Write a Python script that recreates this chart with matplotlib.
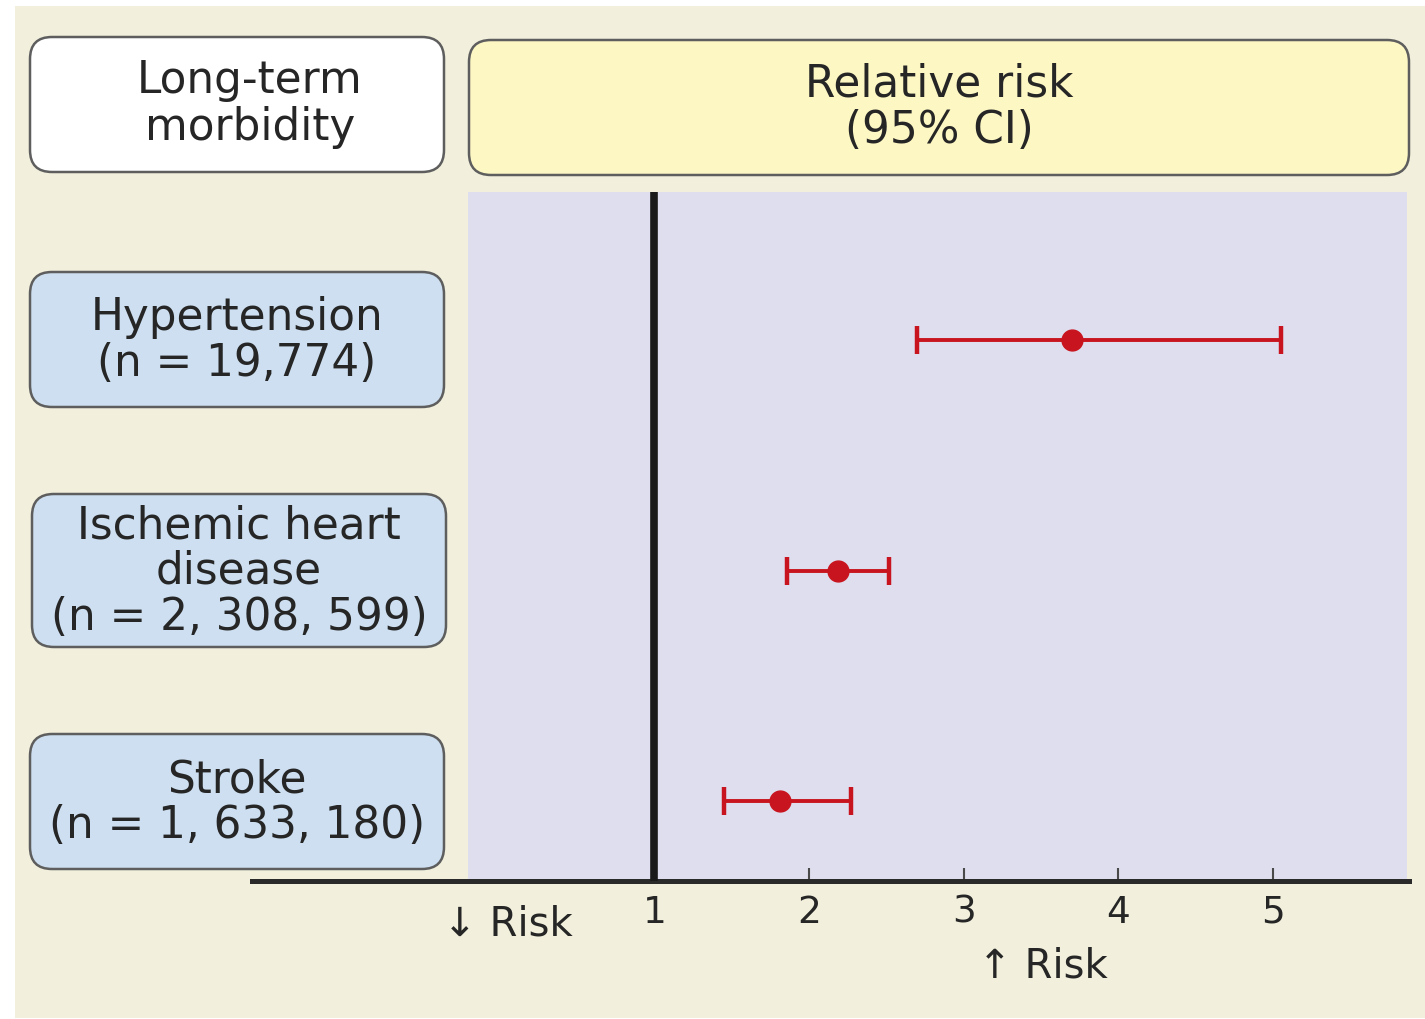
import matplotlib
matplotlib.use("Agg")
import matplotlib.pyplot as plt
from matplotlib.patches import FancyBboxPatch, Rectangle
import numpy as np

# ---- data ----
categories = ["Hypertension\n(n = 19,774)",
              "Ischemic heart\ndisease\n(n = 2, 308, 599)",
              "Stroke\n(n = 1, 633, 180)"]
rr = np.array([3.70, 2.19, 1.81])
ci_low = np.array([2.70, 1.86, 1.45])
ci_high = np.array([5.05, 2.52, 2.27])
tick_values = [1, 2, 3, 4, 5]
tick_labels = ["1", "2", "3", "4", "5"]
header_left = "Long-term\nmorbidity"
header_right = "Relative risk\n(95% CI)"

W, H = 1425, 1019
fig = plt.figure(figsize=(W / 100, H / 100), dpi=100)
fig.patch.set_facecolor("white")
plt.rcParams['font.family'] = ['DejaVu Sans']

TXT = "#262626"
EDGE = "#5e5e5e"
BEIGE = "#f2f0dc"
LAV = "#dfdeee"
YEL = "#fdf7c4"
BLUE = "#cddff0"
RED = "#c8141e"

# overlay in pixel coordinates for layout decorations
bg = fig.add_axes([0, 0, 1, 1], zorder=0)
bg.set_xlim(0, W)
bg.set_ylim(H, 0)
bg.axis("off")
bg.add_patch(Rectangle((15, 6), W - 15, 1012, facecolor=BEIGE, edgecolor="none"))
bg.add_patch(Rectangle((468, 192), 939, 689, facecolor=LAV, edgecolor="none"))

def rbox(x0, y0, x1, y1, fc):
    bg.add_patch(FancyBboxPatch((x0 + 20, y0 + 20), (x1 - x0) - 40, (y1 - y0) - 40,
                                boxstyle="round,pad=20,rounding_size=22",
                                facecolor=fc, edgecolor=EDGE, linewidth=1.8))

FS = 31.5
# header boxes
rbox(30, 37, 444, 172, "white")
bg.text(250, 104, header_left, ha="center", va="center", fontsize=FS,
        color=TXT, linespacing=1.1)
rbox(469, 40, 1409, 175, YEL)
bg.text(939, 107, header_right, ha="center", va="center", fontsize=FS,
        color=TXT, linespacing=1.1)

# row label boxes
row_boxes = [(30, 272, 444, 407), (32, 494, 446, 647), (30, 734, 444, 869)]
for (x0, y0, x1, y1), lab in zip(row_boxes, categories):
    rbox(x0, y0, x1, y1, BLUE)
    bg.text((x0 + x1) / 2, (y0 + y1) / 2 + 1, lab, ha="center", va="center",
            fontsize=FS, color=TXT, linespacing=1.08)

# risk direction labels
bg.text(508, 924, "\u2193 Risk", ha="center", va="center", fontsize=29, color=TXT)
bg.text(1043, 967, "\u2191 Risk", ha="center", va="center", fontsize=29, color=TXT)

# data axes
ax = fig.add_axes([252 / W, (H - 881) / H, (1409 - 252) / W, (881 - 192) / H], zorder=2)
ax.patch.set_alpha(0)
ax.set_xlim(-1.602, 5.880)
ypos = np.arange(len(categories))
ax.set_ylim(2.347, -0.642)

for s in ["top", "right", "left"]:
    ax.spines[s].set_visible(False)
ax.spines["bottom"].set_linewidth(3.6)
ax.spines["bottom"].set_color("#2a2a2a")
ax.set_yticks([])
ax.set_xticks(tick_values)
ax.set_xticklabels(tick_labels)
ax.tick_params(axis="x", direction="in", length=9.5, width=1.5, color="#4a4a4a",
               labelsize=27, labelcolor=TXT, pad=10)

ax.axvline(1, color="#1a1a1a", linewidth=5.5, zorder=3)

ax.errorbar(rr, ypos, xerr=[rr - ci_low, ci_high - rr], fmt="o", color=RED,
            ecolor=RED, markersize=15, elinewidth=2.8, capsize=10, capthick=3.2,
            zorder=4)

fig.savefig("out.png", dpi=100, facecolor=fig.get_facecolor())
